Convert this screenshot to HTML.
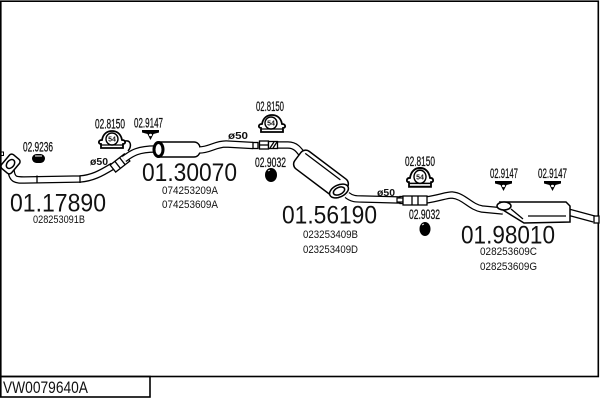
<!DOCTYPE html>
<html>
<head>
<meta charset="utf-8">
<style>
html,body{margin:0;padding:0;background:#fff;}
svg{display:block;}
text{font-family:"Liberation Sans",sans-serif;fill:#111;}
.po{fill:none;stroke:#000;stroke-width:7.5;stroke-linejoin:round;}
.pi{fill:none;stroke:#fff;stroke-width:5;stroke-linejoin:round;}
.ln{fill:none;stroke:#000;stroke-width:1.3;}
.lab{font-size:13.5px;stroke:#111;stroke-width:0.25;}
.code{font-size:11px;}
.big{font-size:25px;}
.phi{font-size:10.5px;font-weight:bold;}
</style>
</head>
<body>
<svg width="600" height="400" viewBox="0 0 600 400" xmlns="http://www.w3.org/2000/svg">
<rect x="0" y="0" width="600" height="400" fill="#fff"/>
<rect x="0.8" y="1.2" width="597.5" height="375.3" fill="none" stroke="#000" stroke-width="1.6"/>
<rect x="0.8" y="376.5" width="149.2" height="20.5" fill="none" stroke="#000" stroke-width="1.6"/>
<text x="3" y="393" style="font-size:16.5px" textLength="85" lengthAdjust="spacingAndGlyphs">VW0079640A</text>

<!-- Section 1 -->
<rect x="0" y="152" width="3.5" height="3.5" fill="none" stroke="#000" stroke-width="1"/>
<path class="po" d="M11,170 C12,180 16,180 24,180 L80,179 C92,178 100,174 113,166"/>
<path class="pi" d="M11,170 C12,180 16,180 24,180 L80,179 C92,178 100,174 113,166"/>
<line class="ln" x1="37" y1="175.5" x2="37" y2="183.5"/>
<line class="ln" x1="80" y1="175.3" x2="80" y2="183"/>
<g transform="rotate(40 10.5 164)">
<rect x="4" y="155" width="13" height="18" rx="3" fill="#fff" stroke="#000" stroke-width="1.5"/>
<ellipse cx="10.5" cy="164" rx="3.5" ry="5" fill="none" stroke="#000" stroke-width="1.5"/>
</g>
<text class="lab" x="23" y="151.5" textLength="30" lengthAdjust="spacingAndGlyphs">02.9236</text>
<rect x="32" y="154" width="13" height="9" rx="4.5" fill="#000"/>
<line x1="35" y1="156" x2="42" y2="156" stroke="#fff" stroke-width="1"/>
<text class="phi" x="90" y="165" textLength="18" lengthAdjust="spacingAndGlyphs">ø50</text>
<g transform="rotate(-38 120 163)">
<rect x="111" y="158.5" width="18" height="9" fill="#fff" stroke="#000" stroke-width="1.3"/>
<line class="ln" x1="117" y1="158.5" x2="117" y2="167.5"/>
<line class="ln" x1="123" y1="158.5" x2="123" y2="167.5"/>
</g>
<text class="big" x="10" y="211.5" textLength="96" lengthAdjust="spacingAndGlyphs">01.17890</text>
<text class="code" x="33" y="223" textLength="52" lengthAdjust="spacingAndGlyphs">028253091B</text>

<text class="lab" x="95" y="128.5" textLength="30" lengthAdjust="spacingAndGlyphs">02.8150</text>
<g transform="translate(98,131)">
<path d="M3,17 L3,13 C0,13 0,9 4,9 C5,3 9,0 14,0 C19,0 23,3 24,9 C28,9 28,13 25,13 L25,17 Z" fill="#fff" stroke="#000" stroke-width="1.8"/>
<line x1="3" y1="14" x2="25" y2="14" stroke="#000" stroke-width="1.3"/>
<circle cx="14" cy="8" r="6" fill="#fff" stroke="#000" stroke-width="1.4"/>
<text x="14" y="10.5" text-anchor="middle" style="font-size:7px;font-weight:bold">54</text>
</g>
<path d="M125,141 C131,140 132,146 128,151" fill="none" stroke="#000" stroke-width="1.5"/>

<!-- Section 2 -->
<path class="po" d="M124,159 C132,153 138,149 156,149"/>
<path class="pi" d="M124,159 C132,153 138,149 156,149"/>
<text class="lab" x="134" y="127.5" textLength="29" lengthAdjust="spacingAndGlyphs">02.9147</text>
<g transform="translate(142,130)">
<path d="M0,0 L17,0 L17,2.5 L11.5,4 L8.5,10 L5.5,4 L0,2.5 Z" fill="#000"/>
<ellipse cx="8.5" cy="5" rx="1.5" ry="1.2" fill="#fff"/>
</g>
<rect x="154" y="142" width="46" height="15" rx="6" fill="#fff" stroke="#000" stroke-width="1.4"/>
<ellipse cx="158.5" cy="149.5" rx="4.5" ry="7" fill="#fff" stroke="#000" stroke-width="3"/>
<path class="po" d="M199,150 C210,150 215,144 226,144 L253,145.5"/>
<path class="pi" d="M199,150 C210,150 215,144 226,144 L253,145.5"/>
<rect x="253" y="142.5" width="5" height="6" fill="#fff" stroke="#000" stroke-width="1.3"/>
<text class="phi" x="228" y="139" textLength="20" lengthAdjust="spacingAndGlyphs">ø50</text>
<text class="big" x="142" y="181" textLength="95" lengthAdjust="spacingAndGlyphs">01.30070</text>
<text class="code" x="162" y="194" textLength="56" lengthAdjust="spacingAndGlyphs">074253209A</text>
<text class="code" x="162" y="208" textLength="56" lengthAdjust="spacingAndGlyphs">074253609A</text>

<!-- Section 3 -->
<text class="lab" x="256" y="111" textLength="28" lengthAdjust="spacingAndGlyphs">02.8150</text>
<g transform="translate(258,115)">
<path d="M3,17 L3,13 C0,13 0,9 4,9 C5,3 9,0 14,0 C19,0 23,3 24,9 C28,9 28,13 25,13 L25,17 Z" fill="#fff" stroke="#000" stroke-width="1.8"/>
<line x1="3" y1="14" x2="25" y2="14" stroke="#000" stroke-width="1.3"/>
<circle cx="13" cy="8" r="6" fill="#fff" stroke="#000" stroke-width="1.4"/>
<text x="13" y="10.5" text-anchor="middle" style="font-size:7px;font-weight:bold">54</text>
</g>
<path class="po" d="M276,145 L288,145 C296,145 299,150 305,158"/>
<path class="pi" d="M276,145 L288,145 C296,145 299,150 305,158"/>
<rect x="259.5" y="141" width="9" height="8" fill="#fff" stroke="#000" stroke-width="1.3"/>
<line class="ln" x1="259.5" y1="145" x2="268.5" y2="145"/>
<rect x="268.5" y="141.5" width="9" height="7" fill="#fff" stroke="#000" stroke-width="1.3"/>
<line class="ln" x1="270" y1="148" x2="274" y2="142"/>
<line class="ln" x1="273" y1="148" x2="277" y2="142"/>
<text class="lab" x="255" y="167" textLength="31" lengthAdjust="spacingAndGlyphs">02.9032</text>
<ellipse cx="271" cy="175" rx="6" ry="7" fill="#000"/>
<line x1="268" y1="171" x2="270" y2="170" stroke="#fff" stroke-width="0.8"/>
<g transform="rotate(37 321 174)">
<rect x="292" y="163" width="58" height="22" rx="6" fill="#fff" stroke="#000" stroke-width="1.5"/>
<line class="ln" x1="296" y1="167" x2="340" y2="167"/>
</g>
<ellipse cx="339" cy="191" rx="10" ry="6" transform="rotate(-25 339 191)" fill="#fff" stroke="#000" stroke-width="1.5"/>
<ellipse cx="339" cy="191" rx="6" ry="3.5" transform="rotate(-25 339 191)" fill="#fff" stroke="#000" stroke-width="1.5"/>
<path class="po" d="M347,195 C352,199 356,199 362,199 L400,200"/>
<path class="pi" d="M347,195 C352,199 356,199 362,199 L400,200"/>
<rect x="400" y="196.5" width="6" height="7" fill="#fff" stroke="#000" stroke-width="1.3"/>
<text class="phi" x="377" y="196" textLength="18" lengthAdjust="spacingAndGlyphs">ø50</text>
<text class="big" x="282" y="223.5" textLength="95" lengthAdjust="spacingAndGlyphs">01.56190</text>
<text class="code" x="303" y="238" textLength="55" lengthAdjust="spacingAndGlyphs">023253409B</text>
<text class="code" x="303" y="253" textLength="55" lengthAdjust="spacingAndGlyphs">023253409D</text>

<!-- Section 4 -->
<text class="lab" x="405" y="166" textLength="30" lengthAdjust="spacingAndGlyphs">02.8150</text>
<g transform="translate(406,168) scale(1,1.1)">
<path d="M3,17 L3,13 C0,13 0,9 4,9 C5,3 9,0 14,0 C19,0 23,3 24,9 C28,9 28,13 25,13 L25,17 Z" fill="#fff" stroke="#000" stroke-width="1.8"/>
<line x1="3" y1="14" x2="25" y2="14" stroke="#000" stroke-width="1.3"/>
<circle cx="14" cy="8" r="6" fill="#fff" stroke="#000" stroke-width="1.4"/>
<text x="14" y="10.5" text-anchor="middle" style="font-size:7px;font-weight:bold">54</text>
</g>
<path class="po" d="M426,200 C440,198 446,195 452,195 C464,196 470,207 482,209 L503,211"/>
<path class="pi" d="M426,200 C440,198 446,195 452,195 C464,196 470,207 482,209 L503,211"/>
<rect x="397" y="198" width="6" height="4" fill="#fff" stroke="#000" stroke-width="1.2"/>
<rect x="403" y="196" width="24" height="9" fill="#fff" stroke="#000" stroke-width="1.3"/>
<line class="ln" x1="412" y1="196" x2="412" y2="205"/>
<line class="ln" x1="418" y1="196" x2="418" y2="205"/>
<text class="lab" x="409" y="219" textLength="31" lengthAdjust="spacingAndGlyphs">02.9032</text>
<ellipse cx="425" cy="229" rx="5.5" ry="7" fill="#000"/>
<line x1="422" y1="225" x2="424" y2="224" stroke="#fff" stroke-width="0.8"/>
<path class="po" d="M568,212 L594,219"/>
<path class="pi" d="M568,212 L594,219"/>
<rect x="594" y="216" width="5" height="7" fill="#fff" stroke="#000" stroke-width="1.3"/>
<path d="M500,202 L566,202 L570,206 L570,222 L524,223 L503,210 Z" fill="#fff" stroke="#000" stroke-width="1.5"/>
<ellipse cx="504" cy="206" rx="7" ry="4" fill="#fff" stroke="#000" stroke-width="1.5"/>
<line class="ln" x1="528" y1="216" x2="566" y2="216"/>
<line class="ln" x1="511" y1="209" x2="523" y2="219"/>
<text class="lab" x="490" y="178" textLength="28" lengthAdjust="spacingAndGlyphs">02.9147</text>
<g transform="translate(495,181)">
<path d="M0,0 L17,0 L17,2.5 L11.5,4 L8.5,10 L5.5,4 L0,2.5 Z" fill="#000"/>
<ellipse cx="8.5" cy="5" rx="1.5" ry="1.2" fill="#fff"/>
</g>
<text class="lab" x="538" y="178" textLength="29" lengthAdjust="spacingAndGlyphs">02.9147</text>
<g transform="translate(544,181)">
<path d="M0,0 L17,0 L17,2.5 L11.5,4 L8.5,10 L5.5,4 L0,2.5 Z" fill="#000"/>
<ellipse cx="8.5" cy="5" rx="1.5" ry="1.2" fill="#fff"/>
</g>
<text class="big" x="461" y="243.5" textLength="94" lengthAdjust="spacingAndGlyphs">01.98010</text>
<text class="code" x="480" y="255" textLength="57" lengthAdjust="spacingAndGlyphs">028253609C</text>
<text class="code" x="480" y="270" textLength="57" lengthAdjust="spacingAndGlyphs">028253609G</text>
</svg>
</body>
</html>
